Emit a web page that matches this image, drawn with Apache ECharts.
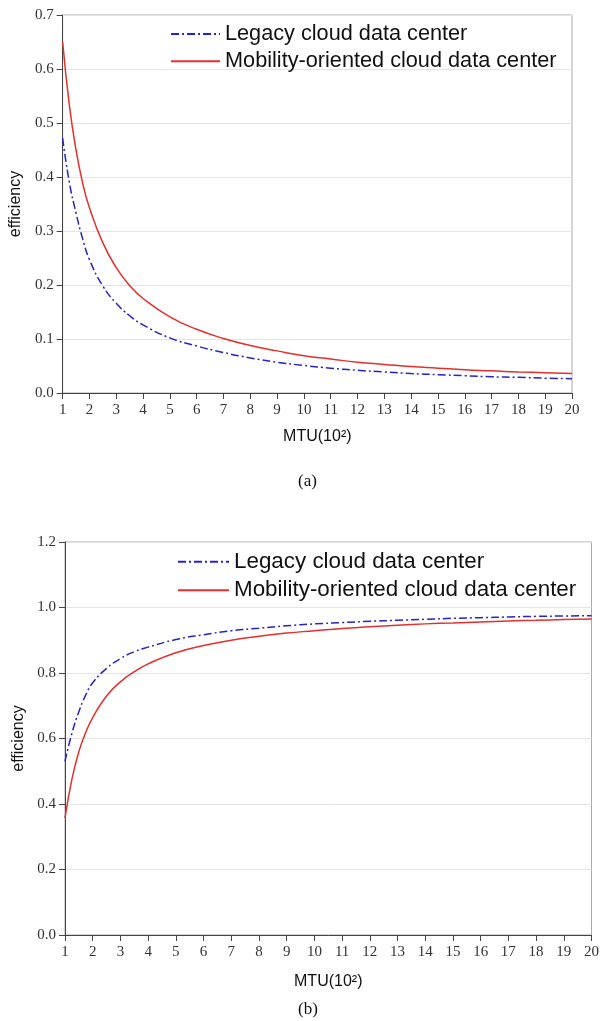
<!DOCTYPE html>
<html>
<head>
<meta charset="utf-8">
<script src="https://cdn.jsdelivr.net/npm/echarts@6/dist/echarts.min.js"></script>
<style>
html,body{margin:0;padding:0;background:#fff;}
#c{width:602px;height:1021px;}
</style>
</head>
<body>
<div id="c"></div>
<script>
// MTU (x100) sample positions
var mtu = [1, 1.25, 1.5, 1.75, 2, 2.5, 3, 3.5, 4, 5, 6, 7, 8, 9, 10, 11, 12, 13, 14, 15, 16, 17, 18, 19, 20];
// (a)
var legacyA   = [0.472, 0.39, 0.333, 0.285, 0.247, 0.198, 0.166, 0.143, 0.126, 0.102, 0.087, 0.075, 0.065, 0.057, 0.051, 0.046, 0.042, 0.039, 0.036, 0.034, 0.032, 0.030, 0.029, 0.0275, 0.0265];
var mobilityA = [0.65, 0.533, 0.45, 0.388, 0.343, 0.278, 0.232, 0.199, 0.175, 0.141, 0.118, 0.101, 0.088, 0.078, 0.069, 0.063, 0.057, 0.053, 0.049, 0.046, 0.043, 0.041, 0.039, 0.0375, 0.036];
// (b)
var legacyB   = [0.53, 0.616, 0.682, 0.733, 0.77, 0.814, 0.844, 0.865, 0.879, 0.902, 0.917, 0.929, 0.937, 0.944, 0.95, 0.954, 0.958, 0.961, 0.964, 0.967, 0.969, 0.971, 0.973, 0.974, 0.975];
var mobilityB = [0.357, 0.476, 0.56, 0.619, 0.664, 0.73, 0.773, 0.804, 0.828, 0.862, 0.884, 0.9, 0.912, 0.922, 0.929, 0.936, 0.941, 0.946, 0.95, 0.953, 0.956, 0.959, 0.961, 0.963, 0.965];

var seriesNames = ['Legacy cloud data center', 'Mobility-oriented cloud data center'];
var xName = 'MTU(10²)';
var yName = 'efficiency';
var panelLabels = ['(a)', '(b)'];

function zip(xs, ys){ return xs.map(function(x,i){ return [x, ys[i]]; }); }

var BLUE = '#2424c8', RED = '#e3302e';
var tickFont = {fontFamily:'"Liberation Serif", "Times New Roman", serif', fontSize:15, color:'#333'};
var nameFont = {fontFamily:'"Liberation Sans", Arial, sans-serif', fontSize:16, color:'#111'};

function xAxis(gi, gap){
  return {
    type:'value', gridIndex:gi, min:1, max:20, interval:1,
    name:xName, nameLocation:'middle', nameGap:gap, nameTextStyle:nameFont,
    axisLine:{show:true, lineStyle:{color:'#444', width:1}},
    axisTick:{show:true, inside:false, length:6, lineStyle:{color:'#444'}},
    axisLabel:Object.assign({margin:10}, tickFont),
    splitLine:{show:false}
  };
}
function yAxis(gi, max, interval, gap){
  return {
    type:'value', gridIndex:gi, min:0, max:max, interval:interval,
    name:yName, nameLocation:'middle', nameGap:gap, nameRotate:90, nameTextStyle:nameFont,
    axisLine:{show:true, lineStyle:{color:'#444', width:1}},
    axisTick:{show:true, inside:false, length:6, lineStyle:{color:'#444'}},
    axisLabel:Object.assign({margin:9, formatter:function(v){return v.toFixed(1);}}, tickFont),
    splitLine:{show:true, lineStyle:{color:'#e4e4e4', width:1}}
  };
}
function line(name, gi, data, color, dashed){
  return {
    name:name, type:'line', xAxisIndex:gi, yAxisIndex:gi,
    data:data, smooth:0.5, symbol:'none', showSymbol:false,
    lineStyle:{color:color, width:1.5, type: dashed ? [8,3,2,3] : 'solid'},
    itemStyle:{color:color},
    animation:false
  };
}

var legendFont = '"Liberation Sans", Arial, sans-serif';
var chart = echarts.init(document.getElementById('c'), null, {renderer:'canvas'});
chart.setOption({
  backgroundColor:'#fff',
  animation:false,
  grid:[
    {left:62, top:15, width:510, height:378, show:true, borderColor:'#aaa', borderWidth:1, backgroundColor:'transparent'},
    {left:65, top:542, width:528, height:393, show:true, borderColor:'#aaa', borderWidth:1, backgroundColor:'transparent'}
  ],
  legend:[
    {data:seriesNames, orient:'vertical', left:170, top:23, padding:0, itemWidth:49, itemHeight:14, itemGap:5.3,
     itemStyle:{opacity:0},
     textStyle:{fontFamily:legendFont, fontSize:21.7, color:'#111', lineHeight:21.7}},
    {data:seriesNames, orient:'vertical', left:177, top:550.5, padding:0, itemWidth:51, itemHeight:14, itemGap:6.2,
     itemStyle:{opacity:0},
     textStyle:{fontFamily:legendFont, fontSize:22.4, color:'#111', lineHeight:22.4}}
  ],
  xAxis:[xAxis(0, 36), xAxis(1, 39)],
  yAxis:[yAxis(0, 0.7, 0.1, 32), yAxis(1, 1.2, 0.2, 35)],
  series:[
    line(seriesNames[0], 0, zip(mtu, legacyA), BLUE, true),
    line(seriesNames[1], 0, zip(mtu, mobilityA), RED, false),
    line(seriesNames[0], 1, zip(mtu, legacyB), BLUE, true),
    line(seriesNames[1], 1, zip(mtu, mobilityB), RED, false)
  ],
  graphic:[
    {type:'text', left:298, top:473, style:{text:panelLabels[0], font:'17px "Liberation Serif", "Times New Roman", serif', fill:'#111'}},
    {type:'text', left:298, top:1001, style:{text:panelLabels[1], font:'17px "Liberation Serif", "Times New Roman", serif', fill:'#111'}}
  ]
});
</script>
</body>
</html>
